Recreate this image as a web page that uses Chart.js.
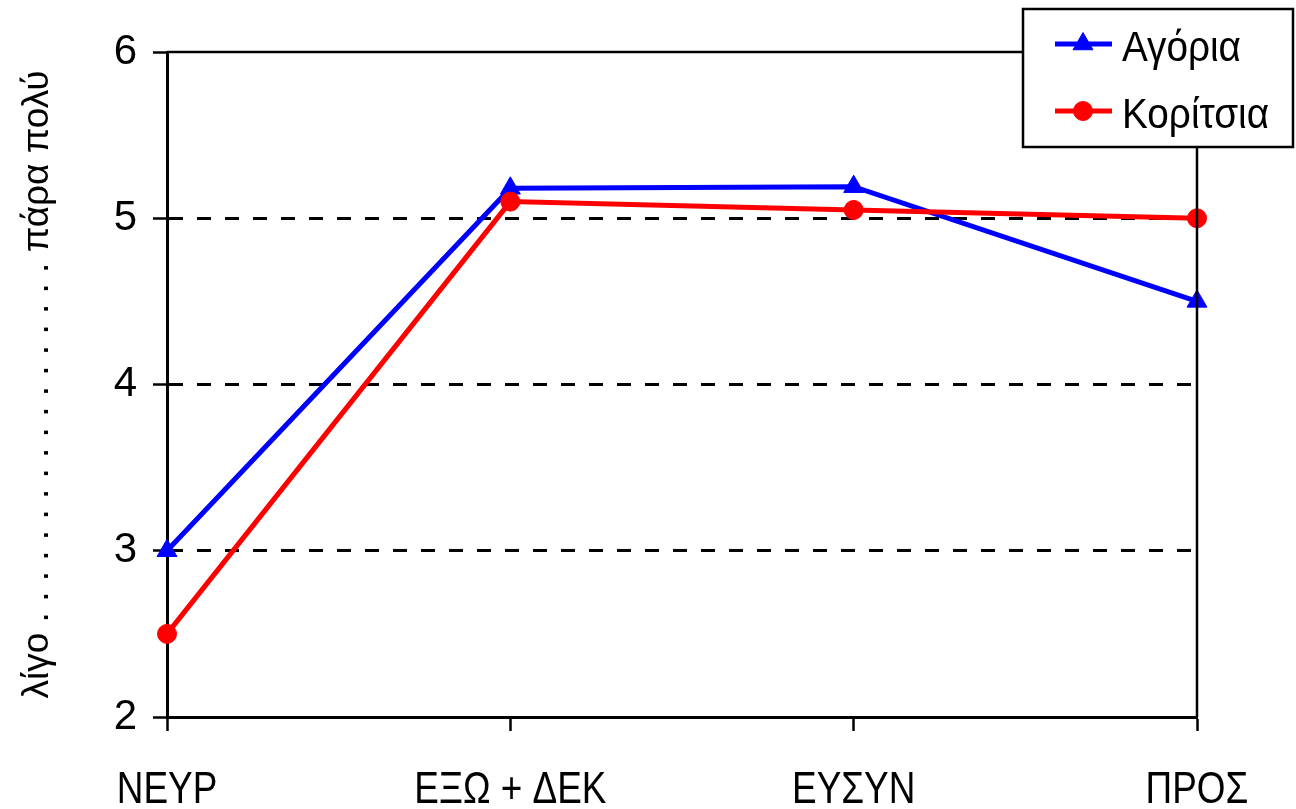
<!DOCTYPE html>
<html>
<head>
<meta charset="utf-8">
<script src="https://cdn.jsdelivr.net/npm/chart.js@4.4.1/dist/chart.umd.min.js"></script>
<style>
  html, body { margin: 0; padding: 0; background: #fff; }
  #wrap { width: 1296px; height: 809px; }
</style>
</head>
<body>
<div id="wrap"><canvas id="c" width="1296" height="809"></canvas></div>
<script>
const categories = ['ΝΕΥΡ', 'ΕΞΩ + ΔΕΚ', 'ΕΥΣΥΝ', 'ΠΡΟΣ'];
const boysLabel = 'Αγόρια';
const girlsLabel = 'Κορίτσια';
const boysValues = [3.0, 5.18, 5.19, 4.5];
const girlsValues = [2.5, 5.1, 5.05, 5.0];
const yTicks = [2, 3, 4, 5, 6];
const yTitle = 'λίγο . . . . . . . . . . . . . . . . . . πάρα πολύ';

const FONT = '"Liberation Sans", Arial, sans-serif';

// Category labels drawn condensed (narrow face) at the x scale's tick positions
const xLabelPlugin = {
  id: 'xLabels',
  afterDraw(chart) {
    const ctx = chart.ctx;
    const xs = chart.scales.x;
    const yBase = xs.top + 86;
    ctx.save();
    ctx.fillStyle = '#000';
    ctx.font = '45px ' + FONT;
    ctx.textAlign = 'center';
    ctx.textBaseline = 'alphabetic';
    chart.data.labels.forEach((lab, i) => {
      const px = xs.getPixelForTick(i);
      ctx.save();
      ctx.translate(px, yBase);
      ctx.scale(0.82, 1);
      ctx.fillText(lab, 0, 0);
      ctx.restore();
    });
    ctx.restore();
  }
};

const legendPlugin = {
  id: 'boxLegend',
  afterDraw(chart) {
    const ctx = chart.ctx;
    const x0 = 1023, y0 = 9, w = 270, h = 138;
    ctx.save();
    ctx.fillStyle = '#fff';
    ctx.fillRect(x0, y0, w, h);
    ctx.lineWidth = 2.5;
    ctx.strokeStyle = '#000';
    ctx.strokeRect(x0, y0, w, h);
    const rows = [chart.data.datasets[0], chart.data.datasets[1]];
    const lineYs = [44, 111];
    const baseYs = [61, 128];
    rows.forEach((ds, i) => {
      const y = lineYs[i];
      ctx.strokeStyle = ds.borderColor;
      ctx.lineWidth = ds.borderWidth;
      ctx.beginPath();
      ctx.moveTo(1055, y);
      ctx.lineTo(1112, y);
      ctx.stroke();
      ctx.fillStyle = ds.pointBackgroundColor;
      ctx.strokeStyle = ds.pointBorderColor;
      ctx.lineWidth = 1;
      Chart.helpers.drawPoint(ctx, {
        pointStyle: ds.pointStyle, radius: ds.pointRadius, rotation: 0, borderWidth: 1
      }, 1083, y);
      ctx.fillStyle = '#000';
      ctx.font = '43px ' + FONT;
      ctx.textBaseline = 'alphabetic';
      ctx.textAlign = 'left';
      ctx.save();
      ctx.translate(1122, baseYs[i]);
      ctx.scale(0.9, 1);
      ctx.fillText(ds.label, 0, 0);
      ctx.restore();
    });
    ctx.restore();
  }
};

const framePlugin = {
  id: 'frame',
  afterDatasetsDraw(chart) {
    const a = chart.chartArea;
    const ctx = chart.ctx;
    ctx.save();
    ctx.strokeStyle = '#000';
    ctx.lineWidth = 2.5;
    ctx.beginPath();
    ctx.moveTo(a.left, a.top);
    ctx.lineTo(a.right, a.top);
    ctx.lineTo(a.right, a.bottom);
    ctx.stroke();
    ctx.restore();
  }
};

new Chart(document.getElementById('c'), {
  type: 'line',
  data: {
    labels: categories,
    datasets: [
      {
        label: boysLabel,
        data: boysValues,
        borderColor: '#0000ff',
        backgroundColor: '#0000ff',
        pointBackgroundColor: '#0000ff',
        pointBorderColor: '#0000ff',
        borderWidth: 5,
        pointStyle: 'triangle',
        pointRadius: 11.5,
        pointBorderWidth: 1,
        tension: 0,
        order: 1
      },
      {
        label: girlsLabel,
        data: girlsValues,
        borderColor: '#ff0000',
        backgroundColor: '#ff0000',
        pointBackgroundColor: '#ff0000',
        pointBorderColor: '#ff0000',
        borderWidth: 5,
        pointStyle: 'circle',
        pointRadius: 9.5,
        pointBorderWidth: 1,
        tension: 0,
        order: 0
      }
    ]
  },
  options: {
    responsive: false,
    animation: false,
    devicePixelRatio: 1,
    layout: { padding: { top: 52, right: 99, bottom: 0, left: 0 } },
    plugins: {
      legend: { display: false },
      tooltip: { enabled: false }
    },
    scales: {
      x: {
        type: 'category',
        offset: false,
        afterFit(scale) { scale.height = 92; },
        grid: {
          drawOnChartArea: false,
          drawTicks: true,
          tickLength: 14,
          tickWidth: 2.5,
          tickColor: '#000'
        },
        border: { display: true, color: '#000', width: 3 },
        ticks: { display: false, autoSkip: false, maxRotation: 0 }
      },
      y: {
        min: 2,
        max: 6,
        afterBuildTicks(scale) {
          scale.ticks = yTicks.map(v => ({ value: v }));
        },
        afterFit(scale) { scale.width = 167; },
        grid: {
          drawOnChartArea: true,
          color: (c) => (c.tick && (c.tick.value === 2 || c.tick.value === 6)) ? 'rgba(0,0,0,0)' : '#000',
          lineWidth: 3,
          drawTicks: true,
          tickLength: 14,
          tickWidth: 2.5,
          tickColor: '#000',
          tickBorderDash: []
        },
        border: { display: true, color: '#000', width: 3, dash: [14, 14] },
        ticks: {
          color: '#000',
          font: { family: FONT, size: 42 },
          padding: 16
        },
        title: {
          display: true,
          text: yTitle,
          color: '#000',
          font: { family: FONT, size: 37 },
          padding: { top: 16, bottom: 0 }
        }
      }
    }
  },
  plugins: [framePlugin, xLabelPlugin, legendPlugin]
});
</script>
</body>
</html>
